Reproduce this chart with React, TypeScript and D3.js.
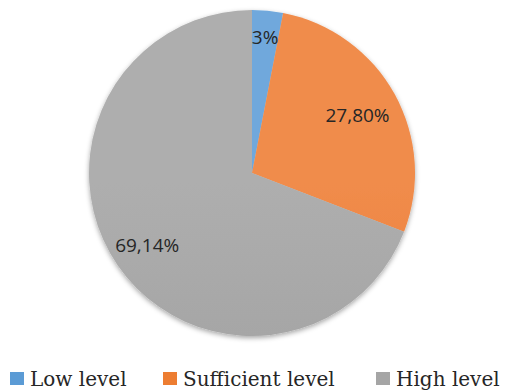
import React from "react";
import * as d3 from "d3";

const categories = ["Low level", "Sufficient level", "High level"];
const values = [3.06, 27.8, 69.14];
const valueLabels = ["3%", "27,80%", "69,14%"];
const colors = ["#5B9BD5", "#ED7D31", "#A5A5A5"];
const lightColors = ["#6FA8DC", "#F08C4C", "#AEAEAE"];
const darkColors = ["#4A8ACB", "#EB7223", "#9D9D9D"];
const labelRadiusFactor = [0.84, 0.74, 0.78];

const W = 507, H = 390;
const cx = 252, cy = 173, R = 163;

export default function App() {
  const pie = d3.pie<number>().sort(null).value((d) => d)(values);
  const arc = d3.arc<d3.PieArcDatum<number>>().innerRadius(0).outerRadius(R);
  const legendX = [10, 163, 376];
  return (
    <svg width={W} height={H} style={{ position: "absolute", left: 0, top: 0 }}>
      <defs>
        {colors.map((c, i) => (
          <linearGradient key={i} id={`g${i}`} gradientUnits="userSpaceOnUse" x1={0} y1={cy - R} x2={0} y2={cy + R}>
            <stop offset="0" stopColor={lightColors[i]} />
            <stop offset="1" stopColor={darkColors[i]} />
          </linearGradient>
        ))}
        <filter id="sh" x="-20%" y="-20%" width="140%" height="140%">
          <feDropShadow dx="0" dy="2" stdDeviation="2.5" floodColor="#000" floodOpacity="0.35" />
        </filter>
      </defs>
      <rect width={W} height={H} fill="#fff" />
      <g transform={`translate(${cx},${cy})`}>
        <g filter="url(#sh)">
          {pie.map((p, i) => (
            <path key={i} d={arc(p) || ""} fill={`url(#g${i})`} />
          ))}
        </g>
        {pie.map((p, i) => {
          const a = (p.startAngle + p.endAngle) / 2;
          const r = R * labelRadiusFactor[i];
          const x = Math.sin(a) * r;
          const y = -Math.cos(a) * r;
          return (
            <text key={i} x={x} y={y} textAnchor="middle" dominantBaseline="central"
              style={{ fontFamily: "'Open Sans', 'Noto Sans', sans-serif", fontSize: 19 }} fill="#262626">
              {valueLabels[i]}
            </text>
          );
        })}
      </g>
      {categories.map((c, i) => (
        <g key={c}>
          <rect x={legendX[i]} y={372} width={14} height={13} fill={colors[i]} />
          <text x={legendX[i] + 20} y={386} style={{ fontFamily: "'DejaVu Serif', serif", fontSize: 20 }} fill="#262626">
            {c}
          </text>
        </g>
      ))}
    </svg>
  );
}
